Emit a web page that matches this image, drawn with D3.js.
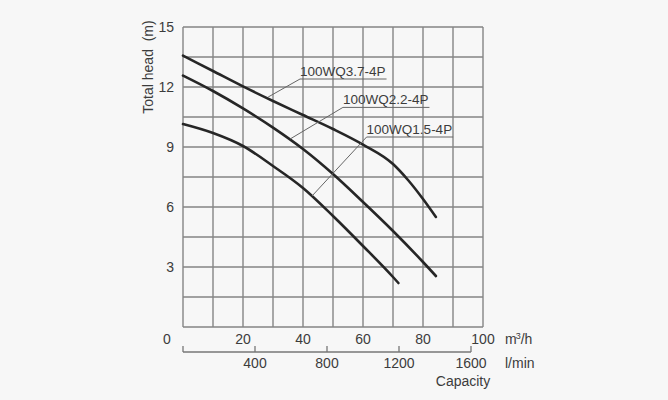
<!DOCTYPE html>
<html>
<head>
<meta charset="utf-8">
<script src="https://cdn.jsdelivr.net/npm/d3@7"></script>
<style>
  body { margin: 0; background: #f7f7f7; }
  svg { display: block; background: #f7f7f7; }
  text { font-family: "Liberation Sans", Arial, sans-serif; fill: #3c3c3c; }
</style>
</head>
<body>
<svg width="668" height="400"></svg>
<script>
// capacity (m3/h) and total head (m)
const flow37 = [0, 10, 20, 30, 40, 50, 60, 70, 75, 80, 84.3];
const head37 = [13.57, 12.8, 12.03, 11.3, 10.6, 9.9, 9.12, 8.15, 7.35, 6.4, 5.5];
const flow22 = [0, 10, 20, 30, 40, 50, 60, 70, 80, 84.3];
const head22 = [12.57, 11.8, 10.93, 9.97, 8.9, 7.65, 6.25, 4.8, 3.25, 2.55];
const flow15 = [0, 10, 20, 30, 40, 50, 60, 70, 71.8];
const head15 = [10.15, 9.7, 9.05, 8.05, 6.95, 5.55, 4.05, 2.5, 2.2];

const modelNames = ['100WQ3.7-4P', '100WQ2.2-4P', '100WQ1.5-4P'];
const headTicks = [3, 6, 9, 12, 15];
const flowTicks = [20, 40, 60, 80, 100];
const litreTicks = [0, 400, 800, 1200, 1600];

const svg = d3.select('svg');
const width = +svg.attr('width');
const height = +svg.attr('height');

const x = d3.scaleLinear().domain([0, 100]).range([183, 483]);
const y = d3.scaleLinear().domain([0, 15]).range([327, 27]);
const xl = d3.scaleLinear().domain([0, 100000 / 60]).range([183, 483]);

const g = svg.append('g');

// grid, every 10 m3/h and every 1.5 m
const gridX = d3.range(0, 100.1, 10);
const gridY = d3.range(0, 15.1, 1.5);
g.append('g').selectAll('line').data(gridX).join('line')
  .attr('x1', d => x(d)).attr('x2', d => x(d))
  .attr('y1', y(0)).attr('y2', y(15))
  .attr('stroke', '#858585').attr('stroke-width', 1.4);
g.append('g').selectAll('line').data(gridY).join('line')
  .attr('y1', d => y(d)).attr('y2', d => y(d))
  .attr('x1', x(0)).attr('x2', x(100))
  .attr('stroke', '#858585').attr('stroke-width', 1.4);

// y labels
g.append('g').selectAll('text').data(headTicks).join('text')
  .attr('x', 174).attr('y', d => y(d))
  .attr('dy', '0.35em').attr('text-anchor', 'end')
  .style('font-size', '14px')
  .text(d => d);

g.append('text')
  .attr('transform', 'translate(153,67) rotate(-90)')
  .attr('text-anchor', 'middle')
  .attr('xml:space', 'preserve')
  .style('font-size', '14px')
  .text('Total head  (m)');

// m3/h labels
g.append('g').selectAll('text').data(flowTicks).join('text')
  .attr('x', d => x(d)).attr('y', 339)
  .attr('dy', '0.35em').attr('text-anchor', 'middle')
  .style('font-size', '14px')
  .text(d => d);
g.append('text')
  .attr('x', 167).attr('y', 339).attr('dy', '0.35em')
  .attr('text-anchor', 'middle').style('font-size', '14px')
  .text('0');

const unit = g.append('text')
  .attr('x', 505).attr('y', 339).attr('dy', '0.35em')
  .style('font-size', '14px');
unit.append('tspan').text('m');
unit.append('tspan').attr('dy', '-5').style('font-size', '9px').attr('dx', '-1').text('3');
unit.append('tspan').attr('dy', '5').text('/h');

// l/min axis
const lAxis = g.append('g').attr('transform', 'translate(0,352)');
lAxis.append('line')
  .attr('x1', xl(0)).attr('x2', xl(1600))
  .attr('stroke', '#777').attr('stroke-width', 1.3);
lAxis.selectAll('.tk').data(litreTicks).join('line')
  .attr('class', 'tk')
  .attr('x1', d => xl(d)).attr('x2', d => xl(d))
  .attr('y1', 0).attr('y2', -6)
  .attr('stroke', '#777').attr('stroke-width', 1.3);
lAxis.selectAll('text').data(litreTicks.filter(d => d > 0)).join('text')
  .attr('x', d => xl(d)).attr('y', 11)
  .attr('dy', '0.35em').attr('text-anchor', 'middle')
  .style('font-size', '14px')
  .text(d => d);
g.append('text')
  .attr('x', 505).attr('y', 363).attr('dy', '0.35em')
  .style('font-size', '14px').text('l/min');
g.append('text')
  .attr('x', 463).attr('y', 381).attr('dy', '0.35em')
  .attr('text-anchor', 'middle')
  .style('font-size', '14px').text('Capacity');

// curves
const series = [
  flow37.map((q, i) => [q, head37[i]]),
  flow22.map((q, i) => [q, head22[i]]),
  flow15.map((q, i) => [q, head15[i]])
];
const line = d3.line()
  .x(d => x(d[0]))
  .y(d => y(d[1]))
  .curve(d3.curveMonotoneX);

g.append('g').selectAll('path').data(series).join('path')
  .attr('d', line)
  .attr('fill', 'none')
  .attr('stroke', '#262626')
  .attr('stroke-width', 2.6)
  .attr('stroke-linecap', 'round');

// model labels with leaders
const notes = [
  { label: [39, 12.4], tip: [28.4, 11.5] },
  { label: [53.3, 10.98], tip: [35.7, 9.4] },
  { label: [61.2, 9.5], tip: [43, 6.55] }
];
notes.forEach((n, i) => {
  const lx = x(n.label[0]);
  const ly = y(n.label[1]);
  const t = g.append('text')
    .attr('x', lx).attr('y', ly - 3)
    .style('font-size', '13.5px')
    .text(modelNames[i]);
  const w = t.node().getComputedTextLength();
  g.append('line')
    .attr('x1', lx).attr('x2', lx + w + 1)
    .attr('y1', ly).attr('y2', ly)
    .attr('stroke', '#666').attr('stroke-width', 1);
  g.append('line')
    .attr('x1', lx).attr('y1', ly)
    .attr('x2', x(n.tip[0])).attr('y2', y(n.tip[1]))
    .attr('stroke', '#666').attr('stroke-width', 1);
});
</script>
</body>
</html>
